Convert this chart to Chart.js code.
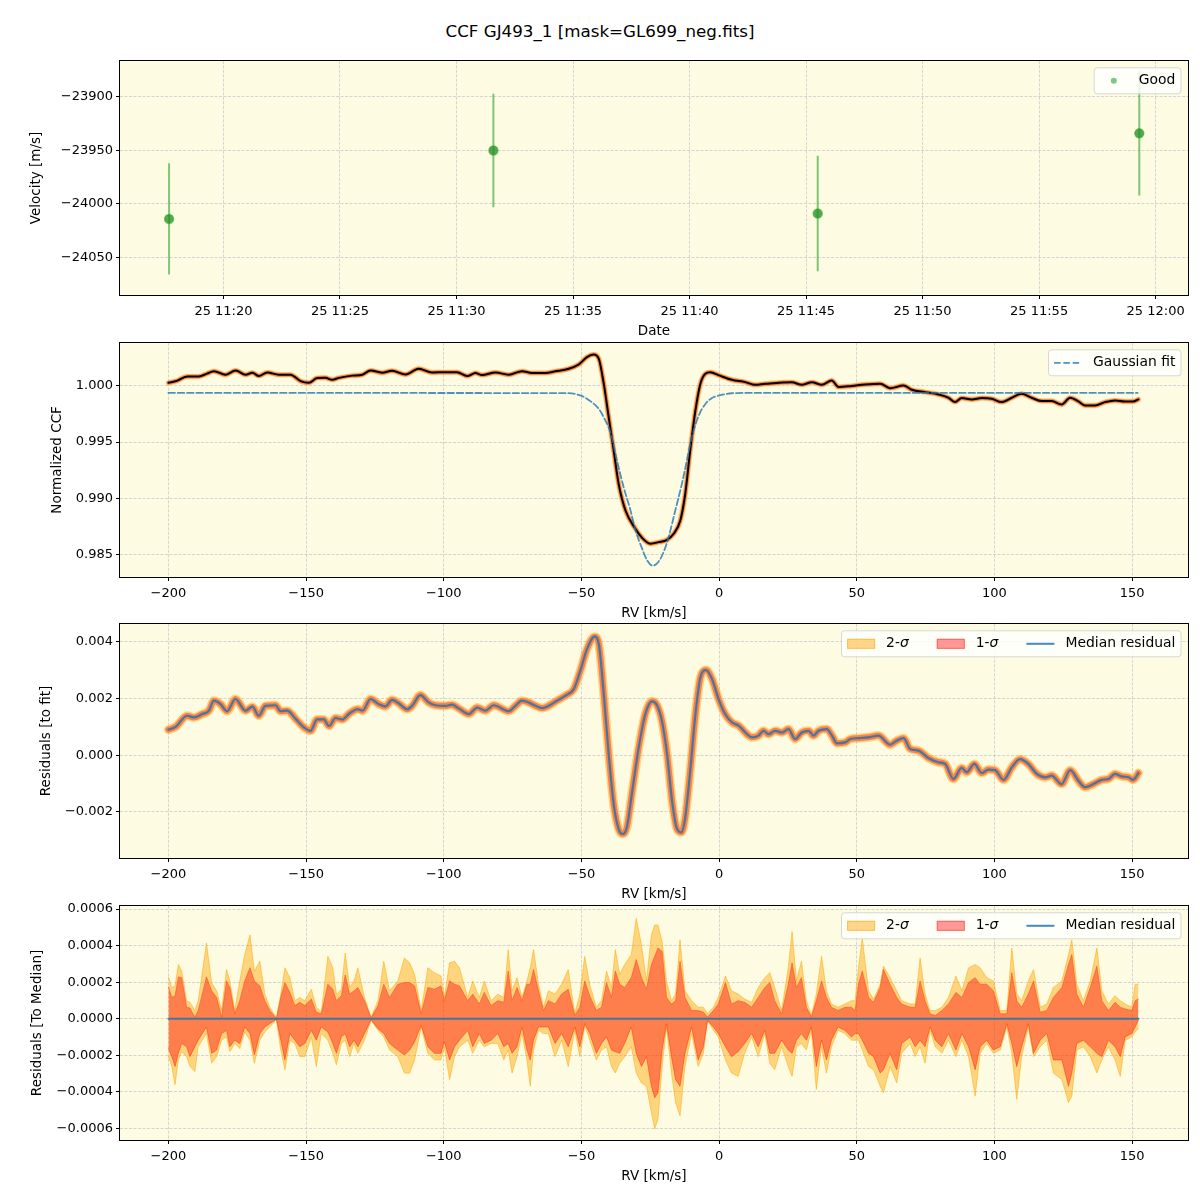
<!DOCTYPE html>
<html>
<head>
<meta charset="utf-8">
<script src="https://cdn.jsdelivr.net/npm/chart.js@4.4.0/dist/chart.umd.min.js"></script>
<style>
  body { margin: 0; background: #fff; width: 1200px; height: 1200px; position: relative; overflow: hidden; font-family: "DejaVu Sans", sans-serif; }
  #title { position: absolute; top: 21px; left: 0; width: 1200px; text-align: center; font-size: 16.7px; color: #000; }
  canvas { position: absolute; left: 0; }
</style>
</head>
<body>
<div id="title">CCF GJ493_1 [mask=GL699_neg.fits]</div>
<canvas id="c1" width="1200" height="290" style="top:50px"></canvas>
<canvas id="c2" width="1200" height="290" style="top:332px"></canvas>
<canvas id="c3" width="1200" height="290" style="top:613px"></canvas>
<canvas id="c4" width="1200" height="290" style="top:895px"></canvas>
<script>
// ---- panel 1: velocity per exposure ----
const obsTimes = ['11:17:40', '11:31:35', '11:45:30', '11:59:18'];
const obsVel = [-24014, -23950, -24009, -23934];
const obsErr = [52, 53, 54, 58];
const timeTicks = ['11:20', '11:25', '11:30', '11:35', '11:40', '11:45', '11:50', '11:55', '12:00'];
const velTicks = [-24050, -24000, -23950, -23900];

// ---- shared RV axis ----
const rvTicks = [-200, -150, -100, -50, 0, 50, 100, 150];

// ---- panel 2: normalized CCF and gaussian fit ----
const ccfTicks = [0.985, 0.990, 0.995, 1.000];
const ccfRv = [-200, -197, -193.2, -189, -186, -183.5, -179.3, -175.6, -172, -169.5, -167.2, -164.1, -159.9, -155.7,
  -152, -149, -146, -143, -140.5, -138.1, -133.3, -129.6, -126.6, -122.4, -118.8, -113.9, -109.1, -104.3, -99.4,
  -95.2, -91.5, -88.5, -86.1, -81.2, -76.4, -71.6, -68, -63.1, -59.5, -54.6, -51, -48, -45.6, -43.7, -41.9, -40.1,
  -38.3, -36.5, -34, -30.4, -28, -25, -22, -18.9, -16.5, -14.1, -12.3, -10.5, -8.6, -6.8, -5, -3.2, 0, 4.6, 9.5,
  13.1, 16.8, 21.6, 26.4, 30, 33.7, 37.3, 40.9, 43.4, 48.2, 53.1, 58.5, 62.1, 67, 70, 74.8, 79.7, 83.3, 85.7, 88.1,
  91.8, 95.4, 99, 102.6, 106.3, 109.9, 113.5, 117.2, 120.8, 124.4, 127.5, 130.5, 132.9, 136.5, 140.2, 143.8, 147.4,
  150.4, 152.3];
const ccfVal = [1.00028, 1.00045, 1.00085, 1.00085, 1.0011, 1.00132, 1.001, 1.00138, 1.001, 1.00118, 1.00088, 1.0012,
  1.001, 1.001, 1.00043, 1.00028, 1.0007, 1.00072, 1.00055, 1.00072, 1.00092, 1.001, 1.00138, 1.00118, 1.00135,
  1.00103, 1.00153, 1.0012, 1.00123, 1.00123, 1.00088, 1.00115, 1.00097, 1.0012, 1.001, 1.00132, 1.00115, 1.00115,
  1.0013, 1.00153, 1.00191, 1.00257, 1.0028, 1.00242, 1.0002, 0.99722, 0.99426, 0.99129, 0.98891, 0.98728, 0.98648,
  0.98595, 0.98609, 0.9863, 0.98684, 0.98802, 0.9904, 0.99426, 0.99782, 1.0002, 1.00109, 1.00123, 1.00094, 1.00055,
  1.00034, 1.0001, 1.0002, 1.00028, 1.00034, 1.0001, 1.00034, 1.0001, 1.00049, 0.9999, 1.0, 1.00013, 1.0002, 0.9998,
  1.00004, 0.99966, 0.99945, 0.99924, 0.99895, 0.99856, 0.99892, 0.9988, 0.99892, 0.99886, 0.99856, 0.99895, 0.9993,
  0.99895, 0.99865, 0.99865, 0.99835, 0.99895, 0.99862, 0.99826, 0.99826, 0.99856, 0.99871, 0.99862, 0.99862, 0.9988];
const gaussRv = [-200, -56, -50.2, -46.2, -43.7, -41.3, -39.5, -37.1, -34.7, -32.2, -30.4, -28, -26.2, -24.1, -22,
  -20.1, -18.3, -15.9, -13.5, -11.7, -9.9, -7.4, -5, -2.6, -0.2, 4.6, 10, 152];
const gaussVal = [0.99938, 0.99936, 0.99914, 0.99855, 0.99796, 0.99692, 0.99589, 0.99337, 0.991, 0.98893, 0.98716,
  0.98553, 0.9845, 0.98399, 0.98435, 0.98524, 0.98657, 0.98893, 0.9913, 0.99337, 0.99544, 0.99736, 0.9984, 0.99893,
  0.99914, 0.99935, 0.99938, 0.99938];

// ---- panel 3: residuals to the fit (median) ----
const resTicks = [-0.002, 0.000, 0.002, 0.004];
const resRv = [-200, -197.4, -193.2, -190.8, -187.7, -185.3, -183.5, -181.1, -178.7, -175.7, -172, -169.5, -167.2,
  -164.8, -161.1, -159.3, -156.9, -153.8, -150.8, -148.4, -146, -143.6, -141.7, -139.3, -136.9, -134.3, -131.3,
  -129.5, -126.6, -123.6, -121.2, -118.8, -116.4, -113.3, -111.5, -108.5, -105.5, -103, -99.4, -97, -94.6, -90.9,
  -87.9, -84.9, -81.9, -76.4, -74, -71.6, -69.2, -66.7, -64.3, -61.9, -58.9, -55.8, -52.8, -50.4, -48, -45.2, -43.7,
  -41.9, -40.1, -38.3, -36.5, -35, -33.5, -31.7, -29.2, -26.8, -24.4, -22.6, -20.8, -18.9, -17.1, -15.3, -13.7,
  -12.3, -10.5, -8.6, -6.8, -4.8, -2.6, -0.2, 2.2, 4.6, 7.1, 9.5, 11.9, 14.3, 16.1, 18, 20.4, 22.8, 25.2, 27.6, 30,
  32.5, 34.3, 36.1, 39.1, 41, 42.8, 45.8, 47.6, 50.6, 54.3, 57.9, 62.1, 64.5, 67, 69.4, 72.4, 76, 79.7, 82.1, 85.1,
  88.1, 89.9, 92.7, 95.4, 97.8, 100.2, 103.3, 106.3, 109.3, 112.3, 115.4, 118.4, 120.8, 124.4, 127.5, 130.5, 132.9,
  135.9, 139, 141.4, 143.8, 146.2, 148.7, 150.4, 152.3];
const resVal = [0.0009, 0.001, 0.00139, 0.00133, 0.00145, 0.00157, 0.00192, 0.0018, 0.00155, 0.00198, 0.00157,
  0.00171, 0.00139, 0.00174, 0.00176, 0.00155, 0.00157, 0.00128, 0.00098, 0.00086, 0.00126, 0.00126, 0.00103,
  0.00131, 0.00126, 0.00147, 0.00162, 0.00157, 0.00198, 0.0018, 0.00172, 0.00195, 0.00183, 0.00162, 0.00174,
  0.00212, 0.00186, 0.00176, 0.00174, 0.00178, 0.00165, 0.00145, 0.00168, 0.00157, 0.00176, 0.00155, 0.00174,
  0.00192, 0.00186, 0.00174, 0.00166, 0.00174, 0.00192, 0.0021, 0.00233, 0.00298, 0.00374, 0.00418, 0.00392,
  0.00216, 0.00004, -0.00172, -0.0026, -0.00278, -0.00254, -0.00137, 0.00027, 0.00145, 0.0019, 0.00177, 0.00122,
  0.00004, -0.0016, -0.0026, -0.00272, -0.00219, -0.00055, 0.00145, 0.00274, 0.003, 0.00269, 0.00198, 0.00145,
  0.00116, 0.00104, 0.0008, 0.00063, 0.00069, 0.00086, 0.00074, 0.00086, 0.0008, 0.00092, 0.00057, 0.0008, 0.00086,
  0.00069, 0.00086, 0.00092, 0.00069, 0.00042, 0.00045, 0.00057, 0.0006, 0.00063, 0.00069, 0.00037, 0.00051, 0.0006,
  0.00022, 0.00016, -0.0001, -0.00025, -0.00031, -0.00084, -0.00045, -0.0006, -0.00031, -0.00063, -0.00051,
  -0.00053, -0.00087, -0.00043, -0.00014, -0.00031, -0.00066, -0.00078, -0.00072, -0.00102, -0.00053, -0.0009,
  -0.00113, -0.00102, -0.00087, -0.00084, -0.00066, -0.00075, -0.00078, -0.00087, -0.00063];

// ---- panel 4: spread around the median ----
const medTicks = [-0.0006, -0.0004, -0.0002, 0.0000, 0.0002, 0.0004, 0.0006];
const sigRv = [-200, -198.8, -197.6, -196.4, -195.2, -193.4, -192.2, -190.4, -189.2, -186.2, -184.3, -182.5, -180.7,
  -178.9, -177.7, -175.9, -174.1, -172.3, -170.4, -168.8, -166.8, -165, -163.2, -160.8, -159.2, -157.7, -155.9,
  -154.1, -152.3, -150.5, -148.1, -146.3, -144.5, -142.1, -140.3, -139, -137.2, -135.8, -134.2, -132.6, -131.2,
  -128.8, -126.4, -123.9, -121.8, -119.7, -116.7, -114.3, -112.4, -110.6, -108.2, -105.8, -103.4, -101, -99.8, -97.9,
  -96.1, -94.3, -91.3, -89.5, -87.1, -85.3, -82.8, -80.4, -78.2, -76.6, -75.2, -73.4, -71.6, -69.8, -68.6, -67.4,
  -65.6, -63.8, -62, -59.6, -57.2, -54.8, -52.4, -50.6, -48.8, -47, -44.6, -42.7, -40.9, -39.1, -37.7, -36.1, -34.3,
  -31.9, -30.1, -28.2, -26.4, -24.6, -23.4, -22.2, -20.7, -19.1, -17.3, -15.8, -14.2, -12.4, -10, -7.6, -5.7, -4.2,
  -2.1, -0.3, 2.3, 4.5, 6.9, 9.3, 11.8, 14.2, 16.6, 18.4, 20.2, 22.7, 25.1, 26.5, 28.1, 29.9, 31.7, 33.5, 35.3, 37.2,
  39, 40.8, 43.2, 45.6, 48.1, 49.4, 50.6, 52, 54.3, 56.1, 58.5, 59.7, 62.1, 64.5, 66.3, 69.4, 71.2, 73, 74.8, 76.6,
  78.5, 80.9, 83.3, 86, 88.2, 90.6, 93, 94.8, 97.2, 99.6, 102.1, 104.5, 106.3, 108.1, 109.9, 112.3, 114.2, 116.6, 119,
  121.4, 124.5, 126.9, 128.1, 129.9, 132.3, 134.8, 137.2, 139, 141.4, 143.8, 145.7, 147.5, 149.9, 151.1, 152.3];
const up2 = [2.29e-4, 1.71e-4, 1.8e-4, 2.97e-4, 2.61e-4, 0.99e-4, 0.9e-4, 0.45e-4, 0.99e-4, 4.14e-4, 1.98e-4, 1.53e-4,
  0.45e-4, 2.7e-4, 2.07e-4, 0.45e-4, 2.07e-4, 3.51e-4, 4.59e-4, 2.61e-4, 3.15e-4, 1.35e-4, 0.63e-4, 0.05e-4, 1.35e-4,
  2.79e-4, 2.25e-4, 0.99e-4, 1.17e-4, 0.99e-4, 1.62e-4, 0.63e-4, 0.36e-4, 3.42e-4, 2.79e-4, 1.35e-4, 1.62e-4, 3.6e-4,
  1.71e-4, 2.07e-4, 2.79e-4, 1.17e-4, 0.09e-4, 0.99e-4, 3.15e-4, 1.53e-4, 2.07e-4, 3.33e-4, 3.06e-4, 2.43e-4, 0.45e-4,
  2.79e-4, 2.52e-4, 2.34e-4, 1.17e-4, 3.06e-4, 3.15e-4, 2.79e-4, 1.17e-4, 2.07e-4, 1.17e-4, 2.07e-4, 0.99e-4, 1.35e-4,
  1.17e-4, 3.78e-4, 1.53e-4, 2.25e-4, 1.17e-4, 2.07e-4, 2.79e-4, 3.78e-4, 1.89e-4, 0.63e-4, 1.53e-4, 1.35e-4, 1.89e-4,
  2.7e-4, 0.27e-4, 1.35e-4, 3.42e-4, 1.89e-4, 0.63e-4, 0.99e-4, 2.61e-4, 1.71e-4, 3.78e-4, 2.43e-4, 2.97e-4, 3.51e-4,
  5.49e-4, 4.05e-4, 2.07e-4, 4.59e-4, 5.13e-4, 5.13e-4, 4.23e-4, 2.07e-4, 0.99e-4, 1.35e-4, 4.32e-4, 1.53e-4, 0.99e-4,
  0.63e-4, 0.63e-4, 0.27e-4, 0.63e-4, 1.17e-4, 2.34e-4, 1.53e-4, 1.35e-4, 1.08e-4, 0.9e-4, 1.71e-4, 2.25e-4, 2.52e-4,
  1.71e-4, 0.45e-4, 2.79e-4, 4.77e-4, 2.07e-4, 3.15e-4, 0.99e-4, 0.18e-4, 1.35e-4, 3.42e-4, 1.53e-4, 0.81e-4, 0.63e-4,
  0.81e-4, 0.99e-4, 0.99e-4, 2.79e-4, 4.41e-4, 1.53e-4, 1.08e-4, 1.89e-4, 2.88e-4, 2.25e-4, 1.53e-4, 0.99e-4, 0.81e-4,
  0.81e-4, 3.33e-4, 1.35e-4, 0.45e-4, 0.45e-4, 0.63e-4, 1.17e-4, 2.34e-4, 1.53e-4, 2.79e-4, 2.97e-4, 2.79e-4, 2.25e-4,
  2.07e-4, 0.45e-4, 0.45e-4, 3.87e-4, 1.35e-4, 0.99e-4, 2.07e-4, 2.7e-4, 0.63e-4, 0.81e-4, 1.71e-4, 2.07e-4, 3.51e-4,
  4.32e-4, 1.89e-4, 0.99e-4, 2.07e-4, 3.87e-4, 1.53e-4, 0.81e-4, 1.26e-4, 0.99e-4, 0.81e-4, 0.63e-4, 1.89e-4, 1.89e-4];
const up1 = [1.75e-4, 1.17e-4, 1.26e-4, 2.29e-4, 2.25e-4, 0.63e-4, 0.59e-4, 0.09e-4, 0.45e-4, 2.29e-4, 1.53e-4, 1.17e-4,
  0.09e-4, 2.07e-4, 1.71e-4, 0.27e-4, 0.99e-4, 2.07e-4, 2.79e-4, 2.07e-4, 1.8e-4, 0.99e-4, 0.45e-4, 0.02e-4, 1.17e-4,
  1.98e-4, 1.44e-4, 0.72e-4, 0.9e-4, 0.72e-4, 1.08e-4, 0.36e-4, 0.27e-4, 1.89e-4, 1.62e-4, 0.99e-4, 1.26e-4, 2.39e-4,
  1.35e-4, 1.53e-4, 1.71e-4, 0.99e-4, 0.05e-4, 0.72e-4, 1.89e-4, 1.17e-4, 1.89e-4, 1.98e-4, 1.98e-4, 1.8e-4, 0.27e-4,
  1.71e-4, 1.62e-4, 1.8e-4, 0.99e-4, 2.07e-4, 1.89e-4, 1.8e-4, 0.99e-4, 1.35e-4, 0.81e-4, 1.44e-4, 0.72e-4, 0.99e-4,
  0.9e-4, 2.61e-4, 0.99e-4, 1.71e-4, 0.99e-4, 1.89e-4, 1.89e-4, 2.7e-4, 1.53e-4, 0.45e-4, 0.99e-4, 0.81e-4, 1.35e-4,
  1.62e-4, 0.18e-4, 0.63e-4, 2.07e-4, 1.26e-4, 0.45e-4, 0.63e-4, 1.98e-4, 1.17e-4, 2.61e-4, 1.89e-4, 1.71e-4, 2.25e-4,
  3.24e-4, 2.25e-4, 1.62e-4, 2.97e-4, 3.42e-4, 3.87e-4, 3.69e-4, 1.17e-4, 0.81e-4, 0.99e-4, 3.15e-4, 1.17e-4, 0.45e-4,
  0.45e-4, 0.36e-4, 0.09e-4, 0.45e-4, 0.81e-4, 1.98e-4, 0.81e-4, 0.99e-4, 0.9e-4, 0.63e-4, 1.17e-4, 1.71e-4, 1.98e-4,
  0.99e-4, 0.27e-4, 1.89e-4, 3.06e-4, 1.71e-4, 2.25e-4, 0.63e-4, 0.09e-4, 0.99e-4, 2.07e-4, 1.17e-4, 0.63e-4, 0.45e-4,
  0.63e-4, 0.63e-4, 0.45e-4, 1.89e-4, 2.61e-4, 1.17e-4, 0.9e-4, 1.71e-4, 2.7e-4, 1.89e-4, 1.17e-4, 0.81e-4, 0.63e-4,
  0.63e-4, 2.07e-4, 0.99e-4, 0.27e-4, 0.18e-4, 0.45e-4, 0.81e-4, 1.44e-4, 1.17e-4, 1.98e-4, 2.25e-4, 1.89e-4, 1.89e-4,
  1.53e-4, 0.27e-4, 0.27e-4, 2.52e-4, 0.99e-4, 0.63e-4, 1.35e-4, 2.07e-4, 0.36e-4, 0.45e-4, 1.17e-4, 1.71e-4, 2.97e-4,
  3.51e-4, 1.35e-4, 0.63e-4, 1.71e-4, 2.88e-4, 0.99e-4, 0.45e-4, 0.9e-4, 0.63e-4, 0.54e-4, 0.45e-4, 0.99e-4, 1.08e-4];
const lo1 = [-1.62e-4, -2.07e-4, -2.61e-4, -1.89e-4, -1.35e-4, -1.53e-4, -2.07e-4, -1.53e-4, -1.17e-4, -0.45e-4,
  -1.89e-4, -1.71e-4, -0.81e-4, -0.63e-4, -1.53e-4, -1.17e-4, -1.35e-4, -0.45e-4, -0.81e-4, -1.98e-4, -0.81e-4,
  -0.45e-4, -0.27e-4, -0.02e-4, -1.17e-4, -2.25e-4, -0.81e-4, -1.17e-4, -1.53e-4, -1.35e-4, -0.63e-4, -1.17e-4,
  -0.45e-4, -0.72e-4, -1.35e-4, -1.89e-4, -0.99e-4, -0.81e-4, -1.53e-4, -1.17e-4, -1.53e-4, -0.81e-4, -0.05e-4,
  -0.54e-4, -0.81e-4, -1.35e-4, -1.71e-4, -1.98e-4, -1.71e-4, -1.26e-4, -0.36e-4, -1.53e-4, -1.89e-4, -1.89e-4,
  -1.26e-4, -2.25e-4, -1.53e-4, -1.17e-4, -0.63e-4, -1.53e-4, -0.81e-4, -1.35e-4, -1.17e-4, -0.81e-4, -1.53e-4,
  -1.35e-4, -1.89e-4, -1.53e-4, -0.45e-4, -1.71e-4, -2.25e-4, -1.17e-4, -0.45e-4, -0.45e-4, -0.45e-4, -1.35e-4,
  -0.81e-4, -1.53e-4, -0.45e-4, -1.53e-4, -0.27e-4, -0.81e-4, -1.89e-4, -1.35e-4, -0.99e-4, -1.71e-4, -1.8e-4,
  -1.89e-4, -1.35e-4, -0.45e-4, -1.89e-4, -2.61e-4, -2.07e-4, -3.69e-4, -4.32e-4, -4.05e-4, -1.71e-4, -0.27e-4,
  -2.07e-4, -3.33e-4, -3.69e-4, -1.89e-4, -0.45e-4, -2.25e-4, -1.53e-4, -0.09e-4, -0.45e-4, -0.81e-4, -1.53e-4,
  -2.07e-4, -1.8e-4, -1.35e-4, -0.81e-4, -1.53e-4, -0.63e-4, -1.89e-4, -1.89e-4, -1.17e-4, -1.71e-4, -1.89e-4,
  -1.17e-4, -0.81e-4, -1.17e-4, -0.45e-4, -2.61e-4, -1.17e-4, -2.25e-4, -1.17e-4, -0.45e-4, -0.63e-4, -0.99e-4,
  -0.81e-4, -0.81e-4, -1.17e-4, -1.89e-4, -2.07e-4, -2.97e-4, -2.79e-4, -1.89e-4, -2.79e-4, -1.35e-4, -0.99e-4,
  -1.53e-4, -1.17e-4, -1.53e-4, -0.45e-4, -1.17e-4, -1.53e-4, -0.81e-4, -1.71e-4, -0.81e-4, -1.53e-4, -2.79e-4,
  -1.53e-4, -1.17e-4, -1.71e-4, -1.53e-4, -0.27e-4, -1.35e-4, -2.61e-4, -1.53e-4, -0.27e-4, -1.89e-4, -1.17e-4,
  -0.81e-4, -2.25e-4, -2.25e-4, -3.69e-4, -2.97e-4, -1.35e-4, -1.17e-4, -1.53e-4, -1.89e-4, -2.07e-4, -1.17e-4,
  -1.53e-4, -2.07e-4, -0.99e-4, -0.81e-4, -0.45e-4, -0.09e-4];
const lo2 = [-2.07e-4, -2.61e-4, -3.6e-4, -2.25e-4, -1.8e-4, -2.07e-4, -2.61e-4, -2.88e-4, -1.53e-4, -0.81e-4,
  -2.43e-4, -2.07e-4, -1.17e-4, -0.99e-4, -1.8e-4, -1.35e-4, -1.62e-4, -0.72e-4, -1.17e-4, -2.43e-4, -1.17e-4,
  -0.72e-4, -0.45e-4, -0.05e-4, -1.71e-4, -2.79e-4, -1.17e-4, -1.35e-4, -2.07e-4, -2.07e-4, -0.99e-4, -2.61e-4,
  -0.81e-4, -1.17e-4, -1.89e-4, -2.52e-4, -1.35e-4, -1.17e-4, -2.07e-4, -1.35e-4, -1.89e-4, -1.17e-4, -0.09e-4,
  -0.63e-4, -0.99e-4, -1.71e-4, -2.07e-4, -2.97e-4, -2.97e-4, -2.25e-4, -0.45e-4, -1.89e-4, -2.25e-4, -2.25e-4,
  -1.53e-4, -3.33e-4, -2.07e-4, -1.53e-4, -1.17e-4, -1.89e-4, -1.17e-4, -1.53e-4, -1.35e-4, -1.35e-4, -2.25e-4,
  -1.71e-4, -2.97e-4, -2.07e-4, -0.81e-4, -2.25e-4, -3.69e-4, -1.71e-4, -0.63e-4, -0.81e-4, -0.81e-4, -2.07e-4,
  -1.17e-4, -2.61e-4, -0.63e-4, -2.07e-4, -0.36e-4, -1.17e-4, -2.25e-4, -1.71e-4, -1.53e-4, -2.61e-4, -2.97e-4,
  -2.43e-4, -2.07e-4, -1.53e-4, -2.97e-4, -3.51e-4, -3.69e-4, -5.13e-4, -6.03e-4, -5.49e-4, -2.61e-4, -0.45e-4,
  -2.97e-4, -4.59e-4, -5.31e-4, -2.61e-4, -0.81e-4, -2.61e-4, -1.89e-4, -0.09e-4, -0.63e-4, -0.99e-4, -2.25e-4,
  -2.97e-4, -3.15e-4, -1.89e-4, -0.99e-4, -2.07e-4, -0.81e-4, -2.43e-4, -2.79e-4, -1.53e-4, -2.61e-4, -3.15e-4,
  -1.53e-4, -1.35e-4, -1.71e-4, -0.63e-4, -3.87e-4, -1.53e-4, -2.97e-4, -1.53e-4, -0.63e-4, -0.81e-4, -1.17e-4,
  -1.17e-4, -1.17e-4, -1.71e-4, -2.61e-4, -2.79e-4, -3.69e-4, -4.05e-4, -2.61e-4, -3.51e-4, -1.89e-4, -1.35e-4,
  -2.07e-4, -1.53e-4, -2.43e-4, -0.63e-4, -1.53e-4, -1.89e-4, -1.17e-4, -2.07e-4, -1.17e-4, -2.07e-4, -4.23e-4,
  -1.89e-4, -1.35e-4, -1.89e-4, -1.71e-4, -0.45e-4, -1.89e-4, -4.41e-4, -2.07e-4, -0.45e-4, -2.07e-4, -1.53e-4,
  -1.17e-4, -2.97e-4, -3.33e-4, -4.59e-4, -4.23e-4, -1.71e-4, -1.53e-4, -2.07e-4, -2.97e-4, -2.25e-4, -1.53e-4,
  -2.25e-4, -3.15e-4, -1.17e-4, -0.99e-4, -0.72e-4, -0.54e-4];
const medRv = [-200, 152.3];
const medVal = [0, 0];

// ---- helpers ----
const FONT = 'DejaVu Sans';
const toMin = s => { const p = s.split(':').map(Number); return p[0] * 60 + p[1] + (p[2] || 0) / 60; };
const minus = s => String(s).replace('-', '\u2212');
const pts = (xs, ys) => xs.map((x, i) => ({ x: x, y: ys[i] }));

function axis(isX, min, max, ticks, fmt, title, titlePad) {
  return {
    type: 'linear', min: min, max: max,
    afterBuildTicks: s => { s.ticks = ticks.map(v => ({ value: v })); },
    afterFit: s => { if (isX) s.height = 45; else s.width = 120; },
    ticks: { callback: fmt, color: '#000', font: { family: FONT, size: 13 }, padding: isX ? 5 : 3, maxRotation: 0, autoSkip: false },
    grid: { color: 'rgba(185,185,195,0.75)', lineWidth: 0.8, tickColor: '#000', tickLength: 4, tickWidth: 1 },
    border: { display: false, dash: [3, 1.5] },
    title: { display: true, text: title, color: '#000', font: { family: FONT, size: 13.5 },
      padding: isX ? { top: 0, bottom: titlePad } : { top: titlePad, bottom: 0 } }
  };
}

const chartBg = {
  id: 'chartBg',
  beforeDraw(chart) {
    const a = chart.chartArea, ctx = chart.ctx;
    ctx.save();
    ctx.fillStyle = '#fdfce3';
    ctx.fillRect(a.left, a.top, a.right - a.left, a.bottom - a.top);
    ctx.restore();
  }
};

const frame = {
  id: 'frame',
  afterDatasetsDraw(chart) {
    const a = chart.chartArea, ctx = chart.ctx;
    ctx.save();
    ctx.strokeStyle = '#000';
    ctx.lineWidth = 1;
    ctx.strokeRect(Math.round(a.left) - 0.5, Math.round(a.top) - 0.5, Math.round(a.right - a.left) + 1, Math.round(a.bottom - a.top) + 1);
    ctx.restore();
  }
};

// matplotlib-like legend box in the upper right corner
function legendBox(items) {
  return {
    id: 'legendBox',
    afterDraw(chart) {
      const ctx = chart.ctx, a = chart.chartArea;
      const fs = 13.9, pad = 5.6, hl = 28, hp = 11, cs = 28, h = 26;
      const normal = fs + 'px "' + FONT + '"', ital = 'italic ' + fs + 'px "' + FONT + '"';
      ctx.save();
      const widths = items.map(it => {
        ctx.font = normal;
        let w = ctx.measureText(it.label).width;
        if (it.sym) { ctx.font = ital; w += ctx.measureText(it.sym).width; }
        return w;
      });
      const total = pad * 2 + widths.reduce((s, w) => s + hl + hp + w, 0) + cs * (items.length - 1);
      const right = a.right - 7, top = a.top + 7, left = right - total, r = 3;
      ctx.beginPath();
      ctx.moveTo(left + r, top);
      ctx.arcTo(right, top, right, top + h, r);
      ctx.arcTo(right, top + h, left, top + h, r);
      ctx.arcTo(left, top + h, left, top, r);
      ctx.arcTo(left, top, right, top, r);
      ctx.closePath();
      ctx.fillStyle = 'rgba(255,255,255,0.8)';
      ctx.fill();
      ctx.strokeStyle = '#d6d6d6';
      ctx.lineWidth = 1;
      ctx.stroke();
      let x = left + pad;
      const cy = top + h / 2;
      items.forEach((it, i) => {
        ctx.save();
        if (it.kind === 'dot') {
          ctx.beginPath();
          ctx.arc(x + hl / 2, cy, 3, 0, Math.PI * 2);
          ctx.fillStyle = it.color;
          ctx.fill();
        } else if (it.kind === 'patch') {
          ctx.fillStyle = it.color;
          ctx.fillRect(x, cy - 5, hl, 10);
          ctx.strokeStyle = it.edge;
          ctx.strokeRect(x + 0.5, cy - 4.5, hl - 1, 9);
        } else {
          ctx.beginPath();
          ctx.moveTo(x, cy);
          ctx.lineTo(x + hl, cy);
          ctx.strokeStyle = it.color;
          ctx.lineWidth = it.width || 2;
          if (it.dash) ctx.setLineDash(it.dash);
          ctx.stroke();
        }
        ctx.restore();
        const tx = x + hl + hp;
        ctx.fillStyle = '#000';
        ctx.textBaseline = 'middle';
        ctx.font = normal;
        ctx.fillText(it.label, tx, cy);
        if (it.sym) {
          const lw = ctx.measureText(it.label).width;
          ctx.font = ital;
          ctx.fillText(it.sym, tx + lw, cy);
        }
        x += hl + hp + widths[i] + cs;
      });
      ctx.restore();
    }
  };
}

function makeChart(id, datasets, xScale, yScale, legendItems) {
  return new Chart(document.getElementById(id), {
    type: 'line',
    data: { datasets: datasets },
    options: {
      responsive: false, animation: false, devicePixelRatio: 1, events: [],
      layout: { padding: { top: 10, right: 12, bottom: 0, left: 0 } },
      scales: { x: xScale, y: yScale },
      plugins: { legend: { display: false }, tooltip: { enabled: false } },
      elements: { point: { radius: 0 }, line: { borderJoinStyle: 'round', borderCapStyle: 'round' } }
    },
    plugins: [chartBg, frame, legendBox(legendItems)]
  });
}

const rvFmt = v => minus(v);
const SIG2 = 'rgba(255,165,0,0.45)', SIG1 = 'rgba(255,0,0,0.4)', CORAL = 'rgb(254,128,75)';
const BLUE = 'rgba(31,119,180,0.85)';

// ---- panel 1 ----
const obsX = obsTimes.map(toMin);
const errPts = [];
obsX.forEach((t, i) => {
  errPts.push({ x: t, y: obsVel[i] - obsErr[i] }, { x: t, y: obsVel[i] + obsErr[i] }, { x: t, y: null });
});
makeChart('c1', [
  { data: pts(obsX, obsVel), showLine: false, pointRadius: 4.5, pointBackgroundColor: 'rgba(30,140,30,0.75)',
    pointBorderColor: 'rgba(44,160,44,0.55)', pointBorderWidth: 1.5, order: 0 },
  { data: errPts, spanGaps: false, borderColor: 'rgba(44,160,44,0.6)', borderWidth: 2, borderCapStyle: 'butt', order: 1 }
],
  axis(true, 675.56, 721.39, timeTicks.map(toMin), v => {
    const h = Math.floor(v / 60), m = Math.round(v - h * 60);
    return '25 ' + h + ':' + String(m).padStart(2, '0');
  }, 'Date', 0),
  axis(false, -24085.1, -23866.2, velTicks, v => minus(v), 'Velocity [m/s]', 28),
  [{ kind: 'dot', color: 'rgba(44,160,44,0.6)', label: 'Good' }]);

// ---- panel 2 ----
makeChart('c2', [
  { data: pts(gaussRv, gaussVal), borderColor: 'rgba(31,119,180,0.8)', borderWidth: 1.8, borderDash: [6.5, 2.8],
    cubicInterpolationMode: 'monotone', order: 0 },
  { data: pts(ccfRv, ccfVal), borderColor: '#000', borderWidth: 2, cubicInterpolationMode: 'monotone', order: 1 },
  { data: pts(ccfRv, ccfVal), borderColor: CORAL, borderWidth: 4, cubicInterpolationMode: 'monotone', order: 2 },
  { data: pts(ccfRv, ccfVal), borderColor: SIG2, borderWidth: 5.5, cubicInterpolationMode: 'monotone', order: 3 }
],
  axis(true, -217.6, 170.3, rvTicks, rvFmt, 'RV [km/s]', 0),
  axis(false, 0.982985, 1.003843, ccfTicks, v => v.toFixed(3), 'Normalized CCF', 49),
  [{ kind: 'line', color: 'rgba(31,119,180,0.8)', width: 1.8, dash: [6.5, 2.8], label: 'Gaussian fit' }]);

const sigLegend = [
  { kind: 'patch', color: SIG2, edge: 'rgba(255,165,0,0.5)', label: '2-', sym: '\u03c3' },
  { kind: 'patch', color: SIG1, edge: 'rgba(255,0,0,0.4)', label: '1-', sym: '\u03c3' },
  { kind: 'line', color: BLUE, width: 2, label: 'Median residual' }
];

// ---- panel 3 ----
makeChart('c3', [
  { data: pts(resRv, resVal), borderColor: BLUE, borderWidth: 2.2, cubicInterpolationMode: 'monotone', order: 0 },
  { data: pts(resRv, resVal), borderColor: CORAL, borderWidth: 6, cubicInterpolationMode: 'monotone', order: 1 },
  { data: pts(resRv, resVal), borderColor: SIG2, borderWidth: 9, cubicInterpolationMode: 'monotone', order: 2 }
],
  axis(true, -217.6, 170.3, rvTicks, rvFmt, 'RV [km/s]', 0),
  axis(false, -0.003627, 0.004633, resTicks, v => minus(v.toFixed(3)), 'Residuals [to fit]', 38),
  sigLegend);

// ---- panel 4 ----
makeChart('c4', [
  { data: pts(medRv, medVal), borderColor: BLUE, borderWidth: 2, order: 0 },
  { data: pts(sigRv, up1), fill: '+1', backgroundColor: SIG1, borderColor: 'rgba(255,70,30,0.55)', borderWidth: 1, order: 1 },
  { data: pts(sigRv, lo1), borderColor: 'rgba(255,70,30,0.55)', borderWidth: 1, order: 1 },
  { data: pts(sigRv, up2), fill: '+1', backgroundColor: SIG2, borderColor: 'rgba(255,165,0,0.5)', borderWidth: 1, order: 2 },
  { data: pts(sigRv, lo2), borderColor: 'rgba(255,165,0,0.5)', borderWidth: 1, order: 2 }
],
  axis(true, -217.6, 170.3, rvTicks, rvFmt, 'RV [km/s]', 0),
  axis(false, -0.000663, 0.000618, medTicks, v => minus(v.toFixed(4)), 'Residuals [To Median]', 29),
  sigLegend);
</script>
</body>
</html>
